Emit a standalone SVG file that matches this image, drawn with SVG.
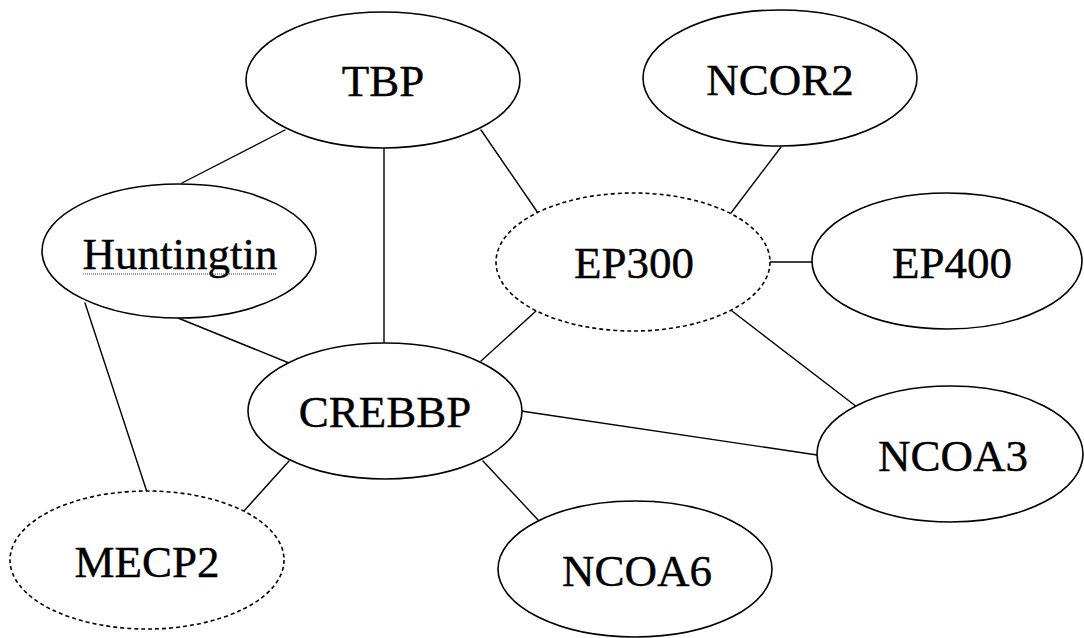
<svg xmlns="http://www.w3.org/2000/svg" width="1084" height="638" viewBox="0 0 1084 638">
  <style>
    .bg { fill: #ffffff; }
    .edge { stroke: #000; stroke-width: 1.4; fill: none; stroke-linecap: round; }
    .node { fill: #ffffff; stroke: #000; stroke-width: 1.6; }
    .node.dashed { stroke-dasharray: 4 3; }
    .label { font-family: "Liberation Serif", Tinos, "Times New Roman", "DejaVu Serif", serif; font-size: 45px; fill: #000; stroke: #000; stroke-width: 0.4; text-anchor: middle; }
    .squiggle { stroke: #444; stroke-width: 1.2; stroke-dasharray: 1 1; fill: none; }
  </style>
  <rect class="bg" x="0" y="0" width="1084" height="638"/>

  <!-- interaction edges -->
  <g id="connectors">
    <line class="edge" x1="285" y1="130" x2="182" y2="183"/>
    <line class="edge" x1="384" y1="148" x2="384" y2="343"/>
    <line class="edge" x1="481" y1="130" x2="538" y2="213"/>
    <line class="edge" x1="781" y1="147" x2="731" y2="213"/>
    <line class="edge" x1="770" y1="262" x2="813" y2="262"/>
    <line class="edge" x1="178" y1="318" x2="289" y2="363"/>
    <line class="edge" x1="85" y1="303" x2="147" y2="492"/>
    <line class="edge" x1="481" y1="361" x2="536" y2="311"/>
    <line class="edge" x1="521" y1="411" x2="817" y2="455"/>
    <line class="edge" x1="732" y1="311" x2="857" y2="407"/>
    <line class="edge" x1="289" y1="461" x2="244" y2="511"/>
    <line class="edge" x1="483" y1="461" x2="539" y2="521"/>
  </g>

  <g id="node-TBP">
    <ellipse class="node" cx="383" cy="80" rx="137" ry="68"/>
    <text class="label" x="383" y="96">TBP</text>
  </g>
  <g id="node-NCOR2">
    <ellipse class="node" cx="780" cy="78" rx="137" ry="68"/>
    <text class="label" x="780" y="95">NCOR2</text>
  </g>
  <g id="node-Huntingtin">
    <ellipse class="node" cx="179" cy="251" rx="137" ry="67"/>
    <text class="label" x="180" y="269">Huntingtin</text>
    <line class="squiggle" x1="83" y1="274" x2="277" y2="274"/>
  </g>
  <g id="node-EP300">
    <ellipse class="node dashed" cx="633" cy="262" rx="137" ry="69"/>
    <text class="label" x="634" y="278">EP300</text>
  </g>
  <g id="node-EP400">
    <ellipse class="node" cx="947" cy="261" rx="135" ry="68"/>
    <text class="label" x="952" y="278">EP400</text>
  </g>
  <g id="node-CREBBP">
    <ellipse class="node" cx="385" cy="411" rx="137" ry="68"/>
    <text class="label" x="385" y="427">CREBBP</text>
  </g>
  <g id="node-NCOA3">
    <ellipse class="node" cx="950" cy="454" rx="133" ry="68"/>
    <text class="label" x="953" y="471">NCOA3</text>
  </g>
  <g id="node-MECP2">
    <ellipse class="node dashed" cx="147" cy="560" rx="137" ry="69"/>
    <text class="label" x="147" y="577">MECP2</text>
  </g>
  <g id="node-NCOA6">
    <ellipse class="node" cx="635" cy="569" rx="137" ry="68"/>
    <text class="label" x="637" y="586">NCOA6</text>
  </g>
</svg>
